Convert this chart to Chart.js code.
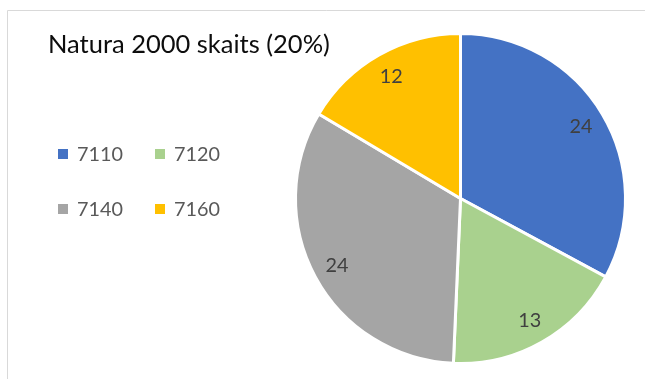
<!DOCTYPE html>
<html>
<head>
<meta charset="utf-8">
<script src="https://cdn.jsdelivr.net/npm/chart.js@4.4.1/dist/chart.umd.min.js"></script>
<style>
    html, body { margin: 0; padding: 0; background: #fff; }
    #wrap { width: 645px; height: 379px; position: relative; }
</style>
</head>
<body>
<div id="wrap"><canvas id="pieChart" width="645" height="379"></canvas></div>
<script>
const categories = ['7110', '7120', '7140', '7160'];
const counts = [24, 13, 24, 12];
const sliceColours = ['#4472C4', '#A9D18E', '#A5A5A5', '#FFC000'];
const chartTitle = 'Natura 2000 skaits (20%)';

const FONT = 'Lato, "Open Sans", sans-serif';

// fit a font size so the text spans the given width
function fitFont(ctx, text, width) {
    ctx.font = '20px ' + FONT;
    const w = ctx.measureText(text).width;
    return 20 * width / w;
}

// frame, title and two-column legend
const decorPlugin = {
    id: 'decor',
    beforeDraw(chart) {
        const ctx = chart.ctx;
        ctx.save();
        ctx.strokeStyle = '#d9d9d9';
        ctx.lineWidth = 1;
        ctx.beginPath();
        ctx.moveTo(7.5, 379);
        ctx.lineTo(7.5, 10.5);
        ctx.lineTo(645, 10.5);
        ctx.stroke();

        const ts = fitFont(ctx, chartTitle, 282);
        ctx.font = ts + 'px ' + FONT;
        ctx.fillStyle = '#0d0d0d';
        ctx.textBaseline = 'middle';
        ctx.textAlign = 'left';
        ctx.fillText(chartTitle, 48, 45);

        const ls = fitFont(ctx, '7110', 46);
        ctx.font = ls + 'px ' + FONT;
        const cols = [58, 155];
        const rows = [154, 209];
        categories.forEach((c, i) => {
            const x = cols[i % 2];
            const y = rows[Math.floor(i / 2)];
            ctx.fillStyle = sliceColours[i];
            ctx.fillRect(x, y - 5, 10, 10);
            ctx.fillStyle = '#595959';
            ctx.fillText(c, x + 19, y + 1);
        });
        ctx.restore();
    },
    afterDatasetsDraw(chart) {
        const ctx = chart.ctx;
        const meta = chart.getDatasetMeta(0);
        ctx.save();
        const ls = fitFont(ctx, '24', 23);
        ctx.font = ls + 'px ' + FONT;
        ctx.fillStyle = '#404040';
        ctx.textAlign = 'center';
        ctx.textBaseline = 'middle';
        meta.data.forEach((arc, i) => {
            const p = arc.getProps(['x', 'y', 'startAngle', 'endAngle', 'outerRadius'], true);
            const mid = (p.startAngle + p.endAngle) / 2;
            const r = p.outerRadius * 0.85;
            ctx.fillText(String(counts[i]), p.x + Math.cos(mid) * r, p.y + Math.sin(mid) * r);
        });
        ctx.restore();
    }
};

new Chart(document.getElementById('pieChart').getContext('2d'), {
    type: 'pie',
    data: {
        labels: categories,
        datasets: [{
            data: counts,
            backgroundColor: sliceColours,
            borderColor: '#ffffff',
            borderWidth: 3
        }]
    },
    options: {
        responsive: false,
        animation: false,
        layout: { padding: { left: 294, right: 18, top: 32, bottom: 14 } },
        plugins: {
            legend: { display: false },
            title: { display: false },
            tooltip: { enabled: false }
        }
    },
    plugins: [decorPlugin]
});
</script>
</body>
</html>
